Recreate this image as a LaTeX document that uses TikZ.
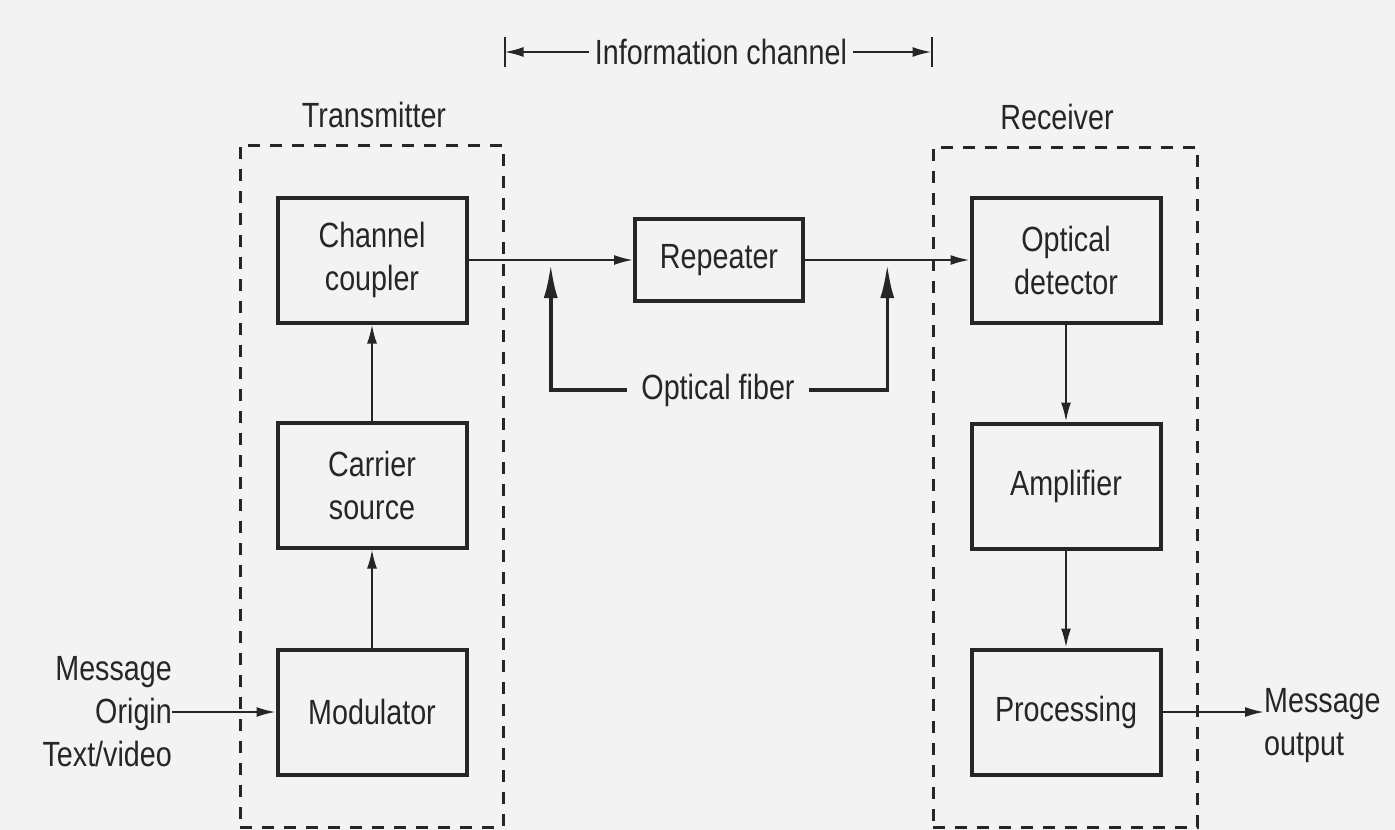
\documentclass[tikz,border=0pt]{standalone}
\usepackage{fontspec}
\setmainfont{Liberation Sans}[FakeStretch=0.82]
\usepackage{tikz}
\usetikzlibrary{positioning,arrows.meta,calc}
\definecolor{ink}{RGB}{38,38,38}
\definecolor{paper}{RGB}{243,243,243}

\begin{document}
\begin{tikzpicture}[x=1pt,y=-1pt,
  font=\fontsize{35}{43}\selectfont, color=ink,
  block/.style={shape=rectangle,draw=ink,line width=4pt,minimum width=189pt,minimum height=125pt,align=center,inner sep=0pt},
  group/.style={shape=rectangle,draw=ink,line width=3pt,dash pattern=on 12pt off 10pt},
  lbl/.style={inner sep=0pt,align=center},
  sig/.style={line width=2pt,-{Latex[length=19pt,width=10pt]}},
  fib/.style={line width=3.5pt,shorten >=4pt,-{Latex[length=34pt,width=14pt]}}]

\fill[paper] (0,0) rectangle (1395,830);
\useasboundingbox (0,0) rectangle (1395,830);

\node[group,minimum width=263pt,minimum height=682pt] (tx) at (371.5,486) {};
\node[group,minimum width=264pt,minimum height=680pt] (rx) at (1065,487) {};
\node[lbl] (txlbl) at (374,115) {Transmitter};
\node[lbl] (rxlbl) at (1057,117) {Receiver};

\node[block] (coupler) at (372,260) {Channel\\coupler};
\node[block] (carrier) at (372,485) {Carrier\\source};
\node[block] (mod) at (372,712) {Modulator};
\node[block,minimum width=168pt,minimum height=82pt] (rep) at (719,260) {Repeater};
\node[block] (det) at (1066,260) {Optical\\detector};
\node[block] (amp) at (1066,486) {Amplifier};
\node[block] (proc) at (1066,712) {Processing};

\node[lbl,align=right,anchor=east] (msgin) at (172,712) {Message\\Origin\\Text/video};
\node[lbl,align=left,anchor=west] (msgout) at (1264,726) {Message\\output};

% information channel span
\node[lbl,inner xsep=6pt] (info) at (721,52) {Information channel};
\coordinate (infoL) at (tx.east |- info);
\coordinate (infoR) at (rx.west |- info);
\draw[sig] (info) -- (infoL);
\draw[sig] (info) -- (infoR);
\draw[line width=2pt] ($(infoL)+(0,-15)$) -- ($(infoL)+(0,15)$);
\draw[line width=2pt] ($(infoR)+(0,-15)$) -- ($(infoR)+(0,15)$);

\node[lbl,inner xsep=14pt] (fiber) at (718,390) {Optical fiber};
\draw[fib] (fiber.west) -| ($(coupler.east)!.5!(rep.west)$);
\draw[fib] (fiber.east) -| ($(rep.east)!.5!(det.west)$);

\draw[sig] (msgin) -- (mod);
\draw[sig] (mod) -- (carrier);
\draw[sig] (carrier) -- (coupler);
\draw[sig] (coupler) -- (rep);
\draw[sig] (rep) -- (det);
\draw[sig] (det) -- (amp);
\draw[sig] (amp) -- (proc);
\draw[sig] (proc) -- (proc -| msgout.west);

\end{tikzpicture}
\end{document}
